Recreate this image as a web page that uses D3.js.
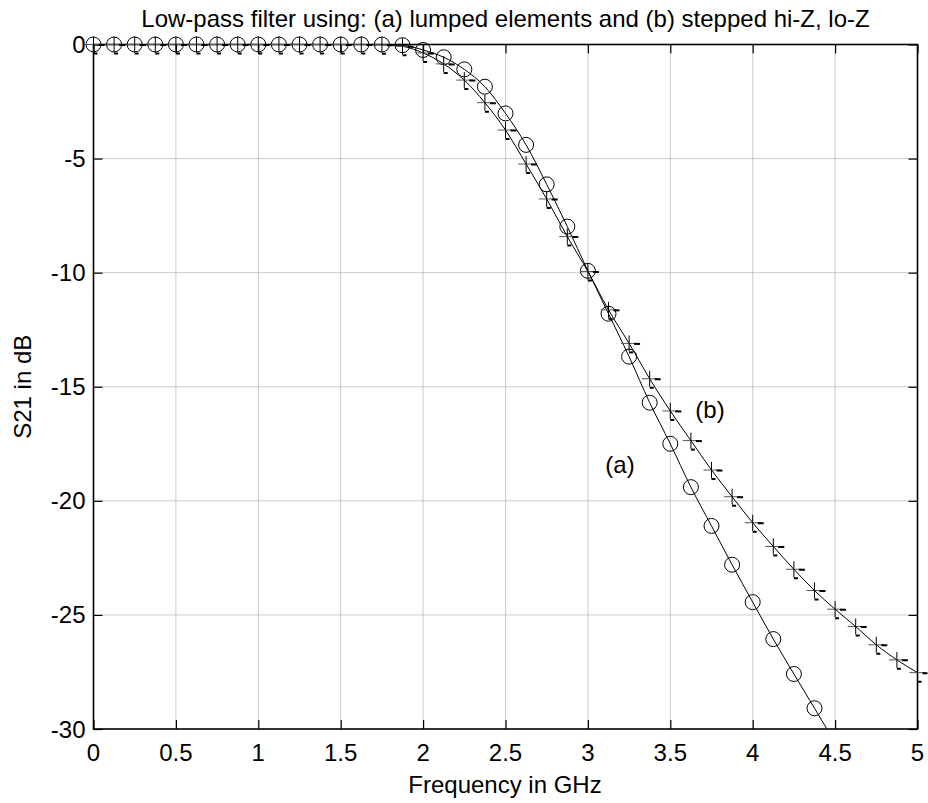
<!DOCTYPE html>
<html>
<head>
<meta charset="utf-8">
<script src="https://cdn.jsdelivr.net/npm/d3@7"></script>
<style>
  body { margin: 0; background: #fff; }
  text { font-family: "Liberation Sans", Arial, sans-serif; fill: #000; }
</style>
</head>
<body>
<svg id="plot" width="928" height="803"></svg>
<script>
// frequency points (GHz), one marker every 0.125 GHz
var freq = [0, 0.125, 0.25, 0.375, 0.5, 0.625, 0.75, 0.875, 1, 1.125, 1.25, 1.375,
            1.5, 1.625, 1.75, 1.875, 2, 2.125, 2.25, 2.375, 2.5, 2.625, 2.75, 2.875,
            3, 3.125, 3.25, 3.375, 3.5, 3.625, 3.75, 3.875, 4, 4.125, 4.25, 4.375,
            4.5, 4.625, 4.75, 4.875, 5];

// (a) lumped elements, S21 in dB (runs off the bottom after 4.4 GHz)
var lumped = [0, 0, 0, 0, 0, 0, 0, 0, 0, 0, 0, 0,
              0, 0, 0, -0.03, -0.24, -0.56, -1.09, -1.85, -3.02, -4.4, -6.13, -7.98,
              -9.92, -11.8, -13.68, -15.7, -17.5, -19.4, -21.1, -22.8, -24.44, -26.06, -27.59, -29.09,
              -30.6];

// (b) stepped hi-Z / lo-Z, S21 in dB
var stepped = [0, 0, 0, 0, 0, 0, 0, 0, 0, 0, 0, 0,
               0, 0, -0.01, -0.08, -0.37, -0.85, -1.56, -2.55, -3.75, -5.24, -6.77, -8.42,
               -9.95, -11.63, -13.1, -14.65, -16.06, -17.36, -18.65, -19.82, -20.96, -22.0, -23.0, -23.93,
               -24.75, -25.51, -26.31, -26.97, -27.53];

var xTicks = [0, 0.5, 1, 1.5, 2, 2.5, 3, 3.5, 4, 4.5, 5];
var yTicks = [0, -5, -10, -15, -20, -25, -30];

var titleText = "Low-pass filter using: (a) lumped elements and (b) stepped hi-Z, lo-Z";
var xLabel = "Frequency in GHz";
var yLabel = "S21 in dB";

// plot box
var boxLeft = 93.5, boxRight = 917.5, boxTop = 44.5, boxBottom = 729;
var tickLen = 9;
var fontSize = "24px";

var svg = d3.select("#plot");

var xScale = d3.scaleLinear().domain([0, 5]).range([boxLeft, boxRight]);
var yScale = d3.scaleLinear().domain([-30, 0]).range([boxBottom, boxTop]);

var seriesA = freq.slice(0, lumped.length).map(function(f, i) { return [f, lumped[i]]; });
var seriesB = freq.map(function(f, i) { return [f, stepped[i]]; });

svg.append("defs").append("clipPath").attr("id", "clip")
   .append("rect")
   .attr("x", boxLeft - 10).attr("y", boxTop - 10)
   .attr("width", boxRight - boxLeft + 20).attr("height", boxBottom - boxTop + 10);

// dotted grid
var grid = svg.append("g").attr("class", "grid");
grid.selectAll("line.gx")
    .data(xTicks.slice(1, -1))
    .enter().append("line")
    .attr("class", "gx")
    .attr("x1", function(d) { return xScale(d); })
    .attr("x2", function(d) { return xScale(d); })
    .attr("y1", boxTop).attr("y2", boxBottom)
    .attr("stroke", "#9a9a9a").attr("stroke-width", 1)
    .attr("stroke-dasharray", "1,1");
grid.selectAll("line.gy")
    .data(yTicks.slice(1, -1))
    .enter().append("line")
    .attr("class", "gy")
    .attr("y1", function(d) { return yScale(d); })
    .attr("y2", function(d) { return yScale(d); })
    .attr("x1", boxLeft).attr("x2", boxRight)
    .attr("stroke", "#9a9a9a").attr("stroke-width", 1)
    .attr("stroke-dasharray", "1,1");

// axes (ticks drawn inward, on all four sides like matlab's box)
var xAxisB = d3.axisTop(xScale).tickValues(xTicks).tickSize(tickLen).tickFormat("");
var xAxisT = d3.axisBottom(xScale).tickValues(xTicks).tickSize(tickLen).tickFormat("");
var yAxisL = d3.axisRight(yScale).tickValues(yTicks).tickSize(tickLen).tickFormat("");
var yAxisR = d3.axisLeft(yScale).tickValues(yTicks).tickSize(tickLen).tickFormat("");

svg.append("g").attr("transform", "translate(0," + boxBottom + ")").call(xAxisB);
svg.append("g").attr("transform", "translate(0," + boxTop + ")").call(xAxisT);
svg.append("g").attr("transform", "translate(" + boxLeft + ",0)").call(yAxisL);
svg.append("g").attr("transform", "translate(" + boxRight + ",0)").call(yAxisR);
svg.selectAll(".domain").remove();
svg.selectAll(".tick line").attr("stroke", "#000").attr("stroke-width", 1.2);

// box
svg.append("rect")
   .attr("x", boxLeft).attr("y", boxTop)
   .attr("width", boxRight - boxLeft).attr("height", boxBottom - boxTop)
   .attr("fill", "none").attr("stroke", "#000").attr("stroke-width", 1.6);

// tick labels
svg.selectAll("text.xt")
   .data(xTicks)
   .enter().append("text")
   .attr("class", "xt")
   .attr("x", function(d) { return xScale(d); })
   .attr("y", boxBottom + 32)
   .attr("text-anchor", "middle")
   .attr("font-size", fontSize)
   .text(function(d) { return d; });

svg.selectAll("text.yt")
   .data(yTicks)
   .enter().append("text")
   .attr("class", "yt")
   .attr("x", boxLeft - 8)
   .attr("y", function(d) { return yScale(d) + 8.5; })
   .attr("text-anchor", "end")
   .attr("font-size", fontSize)
   .text(function(d) { return d; });

// lines
var line = d3.line()
    .x(function(d) { return xScale(d[0]); })
    .y(function(d) { return yScale(d[1]); })
    .curve(d3.curveMonotoneX);

var plotArea = svg.append("g").attr("clip-path", "url(#clip)");

plotArea.append("path").datum(seriesA)
   .attr("d", line).attr("fill", "none")
   .attr("stroke", "#000").attr("stroke-width", 1);
plotArea.append("path").datum(seriesB)
   .attr("d", line).attr("fill", "none")
   .attr("stroke", "#000").attr("stroke-width", 1);

// circle markers for (a)
plotArea.selectAll("circle")
   .data(seriesA.filter(function(d) { return d[1] >= -30; }))
   .enter().append("circle")
   .attr("cx", function(d) { return xScale(d[0]); })
   .attr("cy", function(d) { return yScale(d[1]); })
   .attr("r", 7.5)
   .attr("fill", "none").attr("stroke", "#000").attr("stroke-width", 1);

// plus markers for (b)
var m = 8;
var plus = plotArea.selectAll("g.plus")
   .data(seriesB)
   .enter().append("g")
   .attr("class", "plus")
   .attr("transform", function(d) {
       return "translate(" + xScale(d[0]) + "," + yScale(d[1]) + ")";
   });
plus.append("line")
   .attr("x1", -m).attr("x2", m).attr("y1", 0).attr("y2", 0)
   .attr("stroke", "#555").attr("stroke-width", 1);
plus.append("line")
   .attr("x1", 0).attr("x2", 0).attr("y1", -m).attr("y2", m)
   .attr("stroke", "#000").attr("stroke-width", 1);
// little dark end dashes the original rendering shows
plus.append("line")
   .attr("x1", m - 3).attr("x2", m + 3).attr("y1", 0.5).attr("y2", 0.5)
   .attr("stroke", "#000").attr("stroke-width", 2);
plus.append("line")
   .attr("x1", 0).attr("x2", 4).attr("y1", m + 1).attr("y2", m + 1)
   .attr("stroke", "#000").attr("stroke-width", 2);

// curve labels
svg.append("text")
   .attr("x", 620).attr("y", 473)
   .attr("text-anchor", "middle").attr("font-size", fontSize)
   .text("(a)");
svg.append("text")
   .attr("x", 710).attr("y", 418)
   .attr("text-anchor", "middle").attr("font-size", fontSize)
   .text("(b)");

// title and axis labels
svg.append("text")
   .attr("x", (boxLeft + boxRight) / 2).attr("y", 26.5)
   .attr("text-anchor", "middle").attr("font-size", fontSize)
   .text(titleText);

svg.append("text")
   .attr("x", (boxLeft + boxRight) / 2 - 0.5).attr("y", 793)
   .attr("text-anchor", "middle").attr("font-size", fontSize)
   .text(xLabel);

svg.append("text")
   .attr("transform", "translate(31," + ((boxTop + boxBottom) / 2) + ") rotate(-90)")
   .attr("text-anchor", "middle").attr("font-size", fontSize)
   .text(yLabel);
</script>
</body>
</html>
